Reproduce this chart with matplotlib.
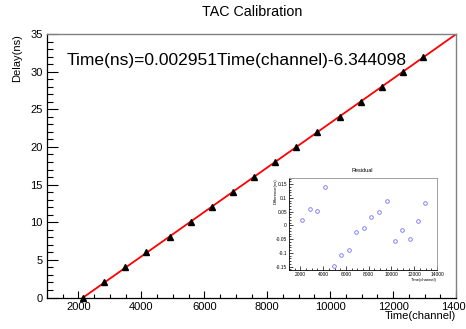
import matplotlib
matplotlib.use("Agg")
import matplotlib.pyplot as plt
from matplotlib.ticker import MultipleLocator, FuncFormatter
import numpy as np

plt.rcParams["font.family"] = ["Liberation Sans", "DejaVu Sans"]

# calibration points (TAC channel vs delay)
channel = [2143.4, 2807.2, 3487.3, 4135.2, 4910.6, 5574.4, 6246.7, 6902.4, 7574.7,
           8238.6, 8910.9, 9575.1, 10302.0, 10966.1, 11654.3, 12310.4, 12966.5]
delay = [0, 2, 4, 6, 8, 10, 12, 14, 16, 18, 20, 22, 24, 26, 28, 30, 32]
residual = [0.019, 0.060, 0.053, 0.141, -0.147, -0.106, -0.090, -0.025, -0.009,
            0.032, 0.048, 0.088, -0.057, -0.017, -0.048, 0.016, 0.080]

# linear fit result
slope = 0.002951
intercept = -6.344098

fig = plt.figure(figsize=(4.66, 3.29), dpi=100)

# ---- main plot ----
ax = fig.add_axes([47 / 466, 1 - 297.5 / 329, 409 / 466, 263.5 / 329])
xs = np.linspace(1000, 14000, 200)
ax.plot(xs, slope * xs + intercept, color="red", lw=1.3, zorder=2)
ax.plot(channel, delay, "^", color="black", ms=4.5, zorder=3, clip_on=False)
ax.set_xlim(1000, 14000)
ax.set_ylim(0, 35)
ax.xaxis.set_major_locator(MultipleLocator(2000))
ax.xaxis.set_minor_locator(MultipleLocator(500))
ax.yaxis.set_major_locator(MultipleLocator(5))
ax.yaxis.set_minor_locator(MultipleLocator(1))
ax.tick_params(axis="x", which="major", direction="in", length=5, width=0.8, labelsize=8, pad=3)
ax.tick_params(axis="x", which="minor", direction="in", length=3, width=0.8)
ax.tick_params(axis="y", which="major", direction="in", length=8, width=0.8, labelsize=8, pad=3)
ax.tick_params(axis="y", which="minor", direction="in", length=4, width=0.8)
for s in ["left", "bottom"]:
    ax.spines[s].set_color("black")
    ax.spines[s].set_linewidth(0.9)
for s in ["top", "right"]:
    ax.spines[s].set_color("#808080")
    ax.spines[s].set_linewidth(1.0)

fig.text(252 / 466, 1 - 12 / 329, "TAC Calibration", ha="center", va="center", fontsize=10.3)
fig.text(17 / 466, 1 - 34 / 329, "Delay(ns)", ha="center", va="top", rotation=90, fontsize=8)
fig.text(456 / 466, 1 - 316 / 329, "Time(channel)", ha="right", va="center", fontsize=8)
fig.text(67 / 466, 1 - 61 / 329, "Time(ns)=%.6fTime(channel)%.6f" % (slope, intercept),
         ha="left", va="center", fontsize=12.5)

# ---- residual inset ----
ins = fig.add_axes([289 / 466, 1 - 270 / 329, 148 / 466, 92 / 329])
ins.plot(channel, residual, "o", mfc="none", mec="#7070ff", ms=2.6, mew=0.6)
ins.set_xlim(1000, 14000)
ins.set_ylim(-0.162, 0.172)
ins.xaxis.set_major_locator(MultipleLocator(2000))
ins.xaxis.set_minor_locator(MultipleLocator(500))
ins.yaxis.set_major_locator(MultipleLocator(0.05))
ins.yaxis.set_minor_locator(MultipleLocator(0.01))
ins.yaxis.set_major_formatter(FuncFormatter(lambda v, p: "%g" % round(v, 3)))
ins.tick_params(which="major", direction="in", length=3, width=0.5, labelsize=3.5, pad=1.5)
ins.tick_params(which="minor", direction="in", length=1.5, width=0.5)
for s in ["left", "bottom"]:
    ins.spines[s].set_color("black")
    ins.spines[s].set_linewidth(0.6)
for s in ["top", "right"]:
    ins.spines[s].set_color("#909090")
    ins.spines[s].set_linewidth(0.6)
fig.text(362 / 466, 1 - 171 / 329, "Residual", ha="center", va="center", fontsize=4)
fig.text(276 / 466, 1 - 178 / 329, "Difference(ns)", ha="center", va="top", rotation=90, fontsize=3)
fig.text(437 / 466, 1 - 280 / 329, "Time(channel)", ha="right", va="center", fontsize=3)

fig.savefig("out.png", dpi=100)
